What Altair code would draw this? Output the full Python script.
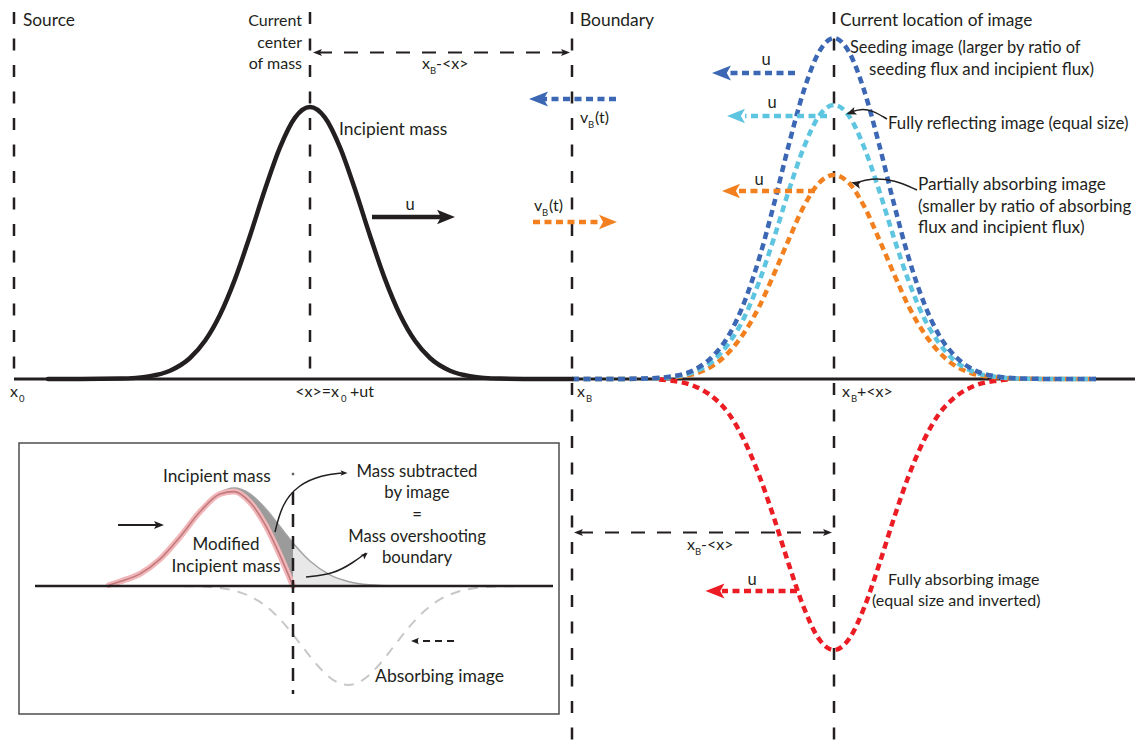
import altair as alt
import pandas as pd

FONT = "Lato"
INK = "#231f20"
BLUE = "#3b67b4"
CYAN = "#5ec5e0"
ORANGE = "#f3801f"
RED = "#ec1c24"

W, H = 1127, 738

# ---------------- data (diagram positions) ----------------
# main baseline and guide lines
base_x = [14, 1135]
base_y = [379, 379]
guide_x = [14, 310, 572, 834]
guide_top = [12, 12, 12, 12]
guide_bottom = [379, 379, 746, 746]

# incipient mass (solid black)
inc_x = [48, 80, 120, 150, 170, 190, 205, 220, 235, 250, 265, 280, 295, 310,
         325, 340, 355, 370, 385, 400, 415, 430, 450, 470, 500, 540, 572]
inc_y = [379, 379, 378.6, 376.1, 370.7, 358, 340.8, 314.7, 279.1, 235.7, 189.3, 147.3, 117.6, 107,
         117.6, 147.3, 189.3, 235.7, 279.1, 314.7, 340.8, 358, 370.7, 376.1, 378.6, 379, 379]

# images (dotted)
img_x = [572, 609, 644, 674, 694, 714, 729, 744, 759, 774, 789, 804, 819, 834,
         849, 864, 879, 894, 909, 924, 939, 954, 974, 994, 1024, 1059, 1096]
seed_y = [379, 379, 378.6, 376, 370, 355, 335, 303, 259, 204, 144, 90, 52, 38,
          52, 90, 144, 204, 259, 303, 335, 355, 370, 376, 378.6, 379, 379]
refl_y = [379, 379, 378.7, 376.6, 372, 360, 343, 318, 282, 238, 190, 147, 116, 105,
          116, 147, 190, 238, 282, 318, 343, 360, 372, 376.6, 378.7, 379, 379]
part_y = [379, 379, 378.7, 377, 374, 365, 352, 333, 307, 274, 239, 206, 183, 175,
          183, 206, 239, 274, 307, 333, 352, 365, 374, 377, 378.7, 379, 379]
abs_x = [659, 674, 694, 714, 729, 744, 759, 774, 789, 804, 819, 834,
         849, 864, 879, 894, 909, 924, 939, 954, 974, 994, 1009]
abs_y = [379.5, 381, 386, 398, 414, 440, 475, 518, 565, 608, 639, 650,
         639, 608, 565, 518, 475, 440, 414, 398, 386, 381, 379.5]

# inset box
box = dict(x=[19], x2=[559], y=[443], y2=[714])
inset_base_x = [35, 553]
inset_base_y = [586, 586]
inset_guide_x = [293, 293]
inset_guide_y = [492, 694]
inset_dot = ([293], [474])

gray_x = [140, 160, 180, 200, 220, 234, 250, 265, 280, 293, 310, 330, 350, 370, 395]
gray_y = [573.9, 559.1, 536.8, 511.4, 492.4, 488, 493.8, 507.9, 526.5, 542.9, 561, 574.9, 581.9, 584.8, 586]
mod_x = [109, 120, 140, 160, 180, 200, 220, 234, 250, 265, 280, 293]
mod_y = [585, 581.5, 573.9, 559.1, 536.9, 511.8, 494.0, 491.6, 502.2, 524.3, 555.3, 586]
dark_x = [140, 160, 180, 200, 220, 234, 250, 265, 280, 293]
dark_top = [573.9, 559.1, 536.8, 511.4, 492.4, 488, 493.8, 507.9, 526.5, 542.9]
dark_bot = [573.9, 559.1, 536.9, 511.8, 494.0, 491.6, 502.2, 524.3, 555.3, 586]
light_x = [293, 310, 330, 350, 370, 395]
light_top = [542.9, 561, 574.9, 581.9, 584.8, 586]
light_bot = [586, 586, 586, 586, 586, 586]
ghost_x = [148, 188, 218, 238, 258, 273, 288, 303, 318, 333, 348,
           363, 378, 393, 408, 423, 438, 458, 478, 508, 548]
ghost_y = [586, 586.2, 587.8, 591.7, 600.6, 612.2, 628.3, 647.4, 666, 679.9, 685,
           679.9, 666, 647.4, 628.3, 612.2, 600.6, 591.7, 587.8, 586.2, 586]

# straight arrow shafts: (x start, x end, y)
shafts_black = [(372, 447, 217)]
shafts_blue = [(616, 540, 99), (795, 730, 73)]
shafts_cyan = [(827, 745, 116)]
shafts_orange = [(533, 600, 222), (815, 738, 191)]
shafts_red = [(797, 722, 591)]
shafts_dash = [(318, 565, 52.5), (579, 827, 532.5)]
shafts_inset_solid = [(118, 158, 525)]
shafts_inset_dash = [(454, 417, 641)]

# curved pointers
curve_refl = ([887, 872, 860, 851], [119, 110, 109, 112])
curve_part = ([917, 895, 870, 856], [190, 180, 178, 183])
curve_sub = ([275, 282, 298, 322, 343], [532, 504, 485, 475, 473])
curve_over = ([306, 334, 354, 366], [577, 574, 562, 553])

# arrow heads
R_HEAD = "M1,0L-1,-0.8L-0.55,0L-1,0.8Z"
L_HEAD = "M-1,0L1,-0.8L0.55,0L1,0.8Z"
head_x = [446, 538.5, 608, 721.5, 736, 731, 715, 317.5, 565.5, 578.5, 827.5, 851, 856, 159, 415, 344, 365]
head_y = [217, 99, 222, 73, 116, 191, 591, 52.5, 52.5, 532.5, 532.5, 112.5, 183.5, 525, 641, 473, 555]
head_dir = ["R", "L", "R", "L", "L", "L", "L", "L", "R", "L", "R", "L", "L", "R", "L", "R", "R"]
head_col = [INK, BLUE, ORANGE, BLUE, CYAN, ORANGE, RED, INK, INK, INK, INK, INK, INK, INK, INK, INK, INK]
head_size = [324, 361, 324, 361, 324, 324, 361, 81, 81, 81, 81, 100, 100, 100, 64, 49, 49]
head_angle = [0, 0, 0, 0, 0, 0, 0, 0, 0, 0, 0, 340, 15, 0, 0, 0, 320]

# texts
left_t = ["Source", "Boundary", "Current location of image", "Seeding image (larger by ratio of",
          "Fully reflecting image (equal size)", "Partially absorbing image",
          "(smaller by ratio of absorbing", "flux and incipient flux)", "Incipient mass",
          "Fully absorbing image", "(equal size and inverted)", "Incipient mass", "Absorbing image"]
left_x = [23, 580, 840, 850, 888, 918, 918, 918, 339, 888, 872, 163, 375]
left_y = [21, 21, 21, 48, 124, 185, 207, 228, 130, 580, 601, 477, 677]
left_s = [17.3, 17.4, 17.3, 16.4, 16.8, 17.2, 16.9, 17.2, 17.4, 16, 16, 17.3, 17.6]
right_t = ["Current", "center", "of mass", "seeding flux and incipient flux)"]
right_x = [302, 302, 302, 1094]
right_y = [21, 43, 64, 70]
right_s = [16, 16, 16, 16.9]
center_t = ["Modified", "Incipient mass", "Mass subtracted", "by image", "=",
            "Mass overshooting", "boundary"]
center_x = [226, 226, 417, 417, 417, 417, 417]
center_y = [545, 567, 472, 493, 515, 537, 558]
center_s = [17, 17.5, 16.8, 16.8, 16.8, 16.6, 16.8]
u_x = [410, 766, 772, 759, 752]
u_y = [205, 60, 103, 180, 580]

# math labels: main part (left / right anchored), subscripts
math_t = ["x", "+ut", "x", "x", "+<x>", "x", "-<x>", "x", "-<x>", "v", "(t)", "v", "(t)"]
math_x = [10, 350, 577, 842, 857, 422, 436, 687, 701, 580, 595, 534, 549]
math_y = [392, 392, 392, 392, 392, 64, 64, 545, 545, 118, 118, 206, 206]
mathr_t = ["<x>=x"]
mathr_x = [339]
mathr_y = [392]
sub_t = ["0", "0", "B", "B", "B", "B", "B", "B"]
sub_x = [19, 341, 586, 851, 430, 695, 588, 542]
sub_y = [399, 399, 399, 399, 71, 552, 125, 213]

# ---------------- helpers ----------------
def X():
    return alt.X("x:Q", scale=alt.Scale(domain=[8, 8 + W], nice=False, zero=False), axis=None)


def Y():
    return alt.Y("y:Q", scale=alt.Scale(domain=[8, 8 + H], nice=False, zero=False, reverse=True), axis=None)


def line(xs, ys, color, width, dash=None, interp="linear", cap="butt"):
    df = pd.DataFrame({"x": xs, "y": ys, "o": list(range(len(xs)))})
    kw = dict(color=color, strokeWidth=width, interpolate=interp, strokeCap=cap)
    if dash:
        kw["strokeDash"] = dash
    return alt.Chart(df).mark_line(**kw).encode(x=X(), y=Y(), order="o:Q")


def area(xs, top, bot, color):
    df = pd.DataFrame({"x": xs, "y": top, "y2": bot})
    return alt.Chart(df).mark_area(color=color, interpolate="monotone", opacity=1).encode(
        x=X(), y=Y(), y2="y2:Q")


def text(labels, xs, ys, align, sizes, color=INK):
    if not isinstance(sizes, list):
        sizes = [sizes] * len(labels)
    df = pd.DataFrame({"x": xs, "y": ys, "t": labels, "s": sizes})
    return alt.Chart(df).mark_text(align=align, baseline="middle", font=FONT, color=color).encode(
        x=X(), y=Y(), text="t:N", size=alt.Size("s:Q", scale=None))


def shafts(items, color, width, dash=None):
    return [line([a, b], [y, y], color, width, dash) for a, b, y in items]


layers = []
# inset box
layers.append(alt.Chart(pd.DataFrame(box)).mark_rect(fill="white", stroke="#4d4d4d", strokeWidth=1.5)
              .encode(x=X(), x2="x2:Q", y=Y(), y2="y2:Q"))
# inset fills and curves
layers.append(area(dark_x, dark_top, dark_bot, "#9b9b9b"))
layers.append(area(light_x, light_top, light_bot, "#e8e8e8"))
layers.append(line(ghost_x, ghost_y, "#c8c8c8", 2, [10, 8], "monotone"))
layers.append(line(gray_x, gray_y, "#a3a3a3", 1.5, None, "monotone"))
layers.append(line(mod_x, mod_y, "#f2b6b9", 6, None, "monotone", "round"))
layers.append(line(mod_x, mod_y, "#c07a7e", 1.6, None, "monotone"))
layers.append(line(inset_base_x, inset_base_y, INK, 2.5))
layers.append(line(inset_guide_x, inset_guide_y, INK, 2.5, [13, 9]))
layers.append(alt.Chart(pd.DataFrame({"x": inset_dot[0], "y": inset_dot[1]}))
              .mark_point(filled=True, color=INK, size=6, shape="square").encode(x=X(), y=Y()))
# main guides
for gx, gt, gb in zip(guide_x, guide_top, guide_bottom):
    layers.append(line([gx, gx], [gt, gb], INK, 2.5, [12, 14.5]))
layers.append(line(base_x, base_y, INK, 3))
# curves
layers.append(line(abs_x, abs_y, RED, 4.5, [7, 4.5], "monotone"))
layers.append(line(img_x, part_y, ORANGE, 4.5, [7, 4.5], "monotone"))
layers.append(line(img_x, refl_y, CYAN, 4.5, [7, 4.5], "monotone"))
layers.append(line(img_x, seed_y, BLUE, 4.5, [7, 4.5], "monotone"))
layers.append(line(inc_x, inc_y, INK, 4.5, None, "monotone", "round"))
# arrows
layers += shafts(shafts_black, INK, 4.5)
layers += shafts(shafts_blue, BLUE, 4.5, [7, 4.5])
layers += shafts(shafts_cyan, CYAN, 4.5, [7, 4.5])
layers += shafts(shafts_orange, ORANGE, 4.5, [7, 4.5])
layers += shafts(shafts_red, RED, 4.5, [7, 4.5])
layers += shafts(shafts_dash, INK, 1.8, [14, 12])
layers += shafts(shafts_inset_solid, INK, 2)
layers += shafts(shafts_inset_dash, INK, 2, [7, 5])
for cx, cy in (curve_refl, curve_part, curve_sub, curve_over):
    layers.append(line(cx, cy, INK, 1.5, None, "basis"))
heads = pd.DataFrame({"x": head_x, "y": head_y,
                      "shape": [R_HEAD if d == "R" else L_HEAD for d in head_dir],
                      "color": head_col, "size": head_size, "angle": head_angle})
layers.append(alt.Chart(heads).mark_point(filled=True, opacity=1, strokeWidth=0).encode(
    x=X(), y=Y(),
    shape=alt.Shape("shape:N", scale=None),
    color=alt.Color("color:N", scale=None),
    size=alt.Size("size:Q", scale=None),
    angle=alt.Angle("angle:Q", scale=None)))
# texts
layers.append(text(left_t, left_x, left_y, "left", left_s))
layers.append(text(right_t, right_x, right_y, "right", right_s))
layers.append(text(center_t, center_x, center_y, "center", center_s))
layers.append(text(["u"] * len(u_x), u_x, u_y, "center", 16.5))
layers.append(text(math_t, math_x, math_y, "left", 16))
layers.append(text(mathr_t, mathr_x, mathr_y, "right", 16))
layers.append(text(sub_t, sub_x, sub_y, "left", 9.5))

chart = alt.layer(*layers).properties(
    width=W, height=H, padding=0, autosize="none", background="white"
).configure_view(stroke=None)

chart.save("out.html", embed_options={"renderer": "svg", "actions": False})
